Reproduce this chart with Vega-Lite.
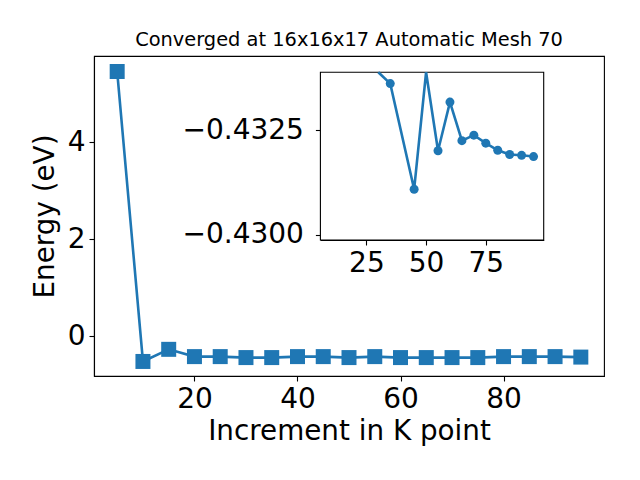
{
  "$schema": "https://vega.github.io/schema/vega-lite/v6.json",
  "autosize": {"type": "none"},
  "padding": {"left": 94, "top": 56, "right": 36, "bottom": 104},
  "width": 510,
  "height": 320,
  "title": {"text": "Converged at 16x16x17 Automatic Mesh 70", "font": "DejaVu Sans", "fontSize": 19.4, "fontWeight": "normal", "anchor": "middle", "offset": 6, "color": "black"},
  "config": {
    "view": {"stroke": "black", "strokeWidth": 1.1},
    "axis": {"grid": false, "domainColor": "black", "tickColor": "black", "labelColor": "black", "titleColor": "black", "labelFont": "DejaVu Sans", "titleFont": "DejaVu Sans", "labelFontSize": 28, "titleFontSize": 27.8, "titleFontWeight": "normal", "tickSize": 5, "labelPadding": 4, "domainWidth": 1.1, "tickWidth": 1.1}
  },
  "datasets": {
    "main": [
      {"k": 5, "energy": 5.46},
      {"k": 10, "energy": -0.52},
      {"k": 15, "energy": -0.27},
      {"k": 20, "energy": -0.42},
      {"k": 25, "energy": -0.42},
      {"k": 30, "energy": -0.44},
      {"k": 35, "energy": -0.44},
      {"k": 40, "energy": -0.42},
      {"k": 45, "energy": -0.42},
      {"k": 50, "energy": -0.44},
      {"k": 55, "energy": -0.42},
      {"k": 60, "energy": -0.44},
      {"k": 65, "energy": -0.44},
      {"k": 70, "energy": -0.44},
      {"k": 75, "energy": -0.44},
      {"k": 80, "energy": -0.42},
      {"k": 85, "energy": -0.42},
      {"k": 90, "energy": -0.42},
      {"k": 95, "energy": -0.43}
    ],
    "inset": [
      {"k": 30, "v": -0.43400},
      {"k": 35, "v": -0.43361},
      {"k": 45, "v": -0.43109},
      {"k": 50, "v": -0.43440},
      {"k": 55, "v": -0.43201},
      {"k": 60, "v": -0.43317},
      {"k": 65, "v": -0.43225},
      {"k": 70, "v": -0.43238},
      {"k": 75, "v": -0.43219},
      {"k": 80, "v": -0.43202},
      {"k": 85, "v": -0.43192},
      {"k": 90, "v": -0.43190},
      {"k": 95, "v": -0.43187}
    ]
  },
  "layer": [
    {
      "data": {"name": "main"},
      "encoding": {
        "x": {"field": "k", "type": "quantitative", "scale": {"domain": [0.5, 99.5], "nice": false, "zero": false},
              "axis": {"values": [20, 40, 60, 80], "title": "Increment in K point", "titlePadding": 4, "format": "d"}},
        "y": {"field": "energy", "type": "quantitative", "scale": {"domain": [-0.82, 5.78], "nice": false, "zero": false},
              "axis": {"values": [0, 2, 4], "title": "Energy (eV)", "titlePadding": 8, "format": "d"}}
      },
      "layer": [
        {"mark": {"type": "line", "color": "#1f77b4", "strokeWidth": 2.6}},
        {"mark": {"type": "point", "shape": "square", "filled": true, "opacity": 1, "color": "#1f77b4", "size": 225}}
      ]
    },
    {
      "layer": [
        {
          "data": {"values": [{}]},
          "mark": {"type": "rect", "fill": "white", "stroke": "black", "strokeWidth": 1.1},
          "encoding": {
            "x": {"datum": 5.75, "type": "quantitative", "scale": {"domain": [5.75, 99.25], "range": [226.4, 449.7], "nice": false, "zero": false, "clamp": true},
                  "axis": {"orient": "bottom", "offset": -136, "values": [25, 50, 75], "format": "d", "title": null}},
            "x2": {"datum": 99.25},
            "y": {"datum": -0.43388, "type": "quantitative", "scale": {"domain": [-0.43388, -0.42988], "range": [16.3, 184], "nice": false, "zero": false, "clamp": true},
                  "axis": {"orient": "left", "offset": -226.4, "values": [-0.4325, -0.43], "format": ".4f", "title": null, "labelPadding": 12}},
            "y2": {"datum": -0.42988}
          }
        },
        {
          "data": {"name": "inset"},
          "mark": {"type": "line", "color": "#1f77b4", "strokeWidth": 2.6},
          "encoding": {
            "x": {"field": "k", "type": "quantitative"},
            "y": {"field": "v", "type": "quantitative"}
          }
        },
        {
          "data": {"name": "inset"},
          "transform": [{"filter": "datum.v >= -0.43388 && datum.v <= -0.42988"}],
          "mark": {"type": "point", "shape": "circle", "filled": true, "opacity": 1, "color": "#1f77b4", "size": 81},
          "encoding": {
            "x": {"field": "k", "type": "quantitative"},
            "y": {"field": "v", "type": "quantitative"}
          }
        }
      ]
    }
  ],
  "resolve": {"scale": {"x": "independent", "y": "independent"}, "axis": {"x": "independent", "y": "independent"}}
}
